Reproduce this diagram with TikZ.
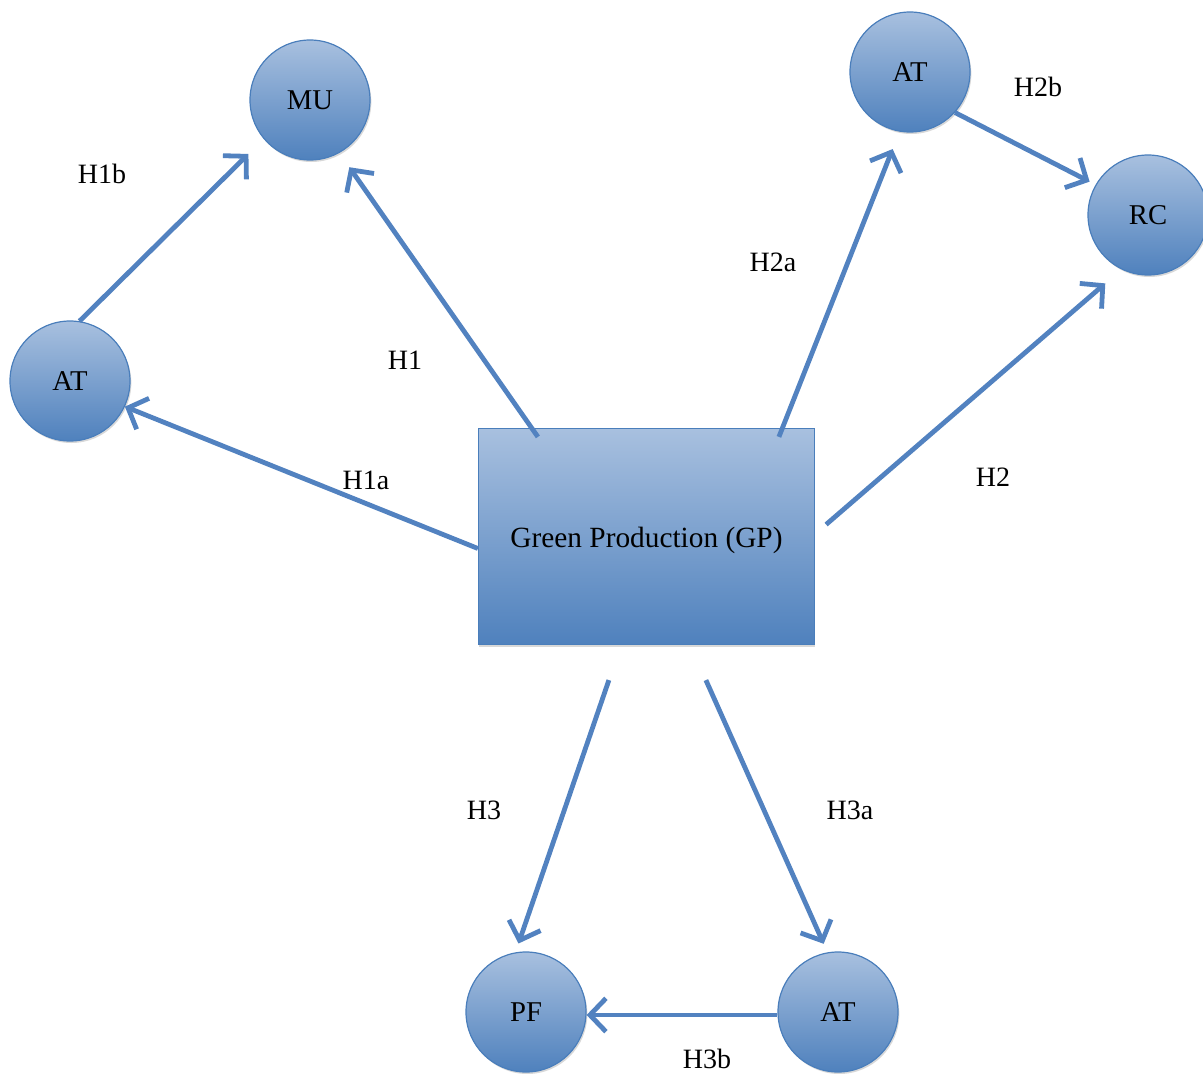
\documentclass[tikz,border=0pt]{standalone}
\usepackage{fontspec}
\setmainfont{Liberation Serif}
\usetikzlibrary{arrows.meta,shadows}
\definecolor{nodetop}{RGB}{168,192,223}
\definecolor{nodebottom}{RGB}{79,129,189}
\definecolor{nodeline}{RGB}{74,126,187}
\definecolor{arrowblue}{RGB}{82,130,192}

\tikzset{
  construct/.style={circle, minimum size=90pt, inner sep=0pt, draw=nodeline, line width=0.9pt,
    top color=nodetop, bottom color=nodebottom,
    drop shadow={shadow xshift=1pt, shadow yshift=-1.5pt, fill=black!30},
    font=\fontsize{21.5}{25}\selectfont},
  mainbox/.style={rectangle, minimum width=252pt, minimum height=162pt, draw=nodeline, line width=0.9pt,
    top color=nodetop, bottom color=nodebottom,
    drop shadow={shadow xshift=0pt, shadow yshift=-1.5pt, fill=black!30},
    font=\fontsize{22}{26}\selectfont},
  hyp/.style={font=\fontsize{21}{25}\selectfont},
  link/.style={draw=arrowblue, line width=3.6pt, -{Straight Barb[length=12pt, width=25pt, line width=3.6pt]}}
}

\begin{document}
\begin{tikzpicture}[x=0.75pt, y=-0.75pt]
    \useasboundingbox (0,0) rectangle (1203,1074);

    % Constructs
    \node[mainbox] (gp) at (646.5,536.5) {\raisebox{-8pt}[0pt][0pt]{Green Production (GP)}};
    \node[construct] (mu) at (310,100) {MU};
    \node[construct] (atl) at (70,381) {AT};
    \node[construct] (att) at (910,72) {AT};
    \node[construct] (rc) at (1148,215) {RC};
    \node[construct] (pf) at (526,1012) {PF};
    \node[construct] (atb) at (838,1012) {AT};

    % Paths
    \draw[link, shorten >=16pt] (atl.81) -- (mu.220);
    \draw[link, shorten >=13pt] ([shift={(60,9)}]gp.north west) -- (mu.-61);
    \draw[link] ([shift={(0,12)}]gp.west) -- (atl.-25);
    \draw[link, shorten >=14pt] ([shift={(301,9)}]gp.north west) -- (att.260);
    \draw[link, shorten >=5pt] (att.-42) -- (rc.150);
    \draw[link, shorten >=16pt] ([shift={(11,-12)}]gp.east) -- (rc.244);
    \draw[link, shorten >=7pt] ([shift={(131,35)}]gp.south west) -- (pf.100);
    \draw[link, shorten >=7pt] ([shift={(228,35)}]gp.south west) -- (atb.100);
    \draw[link] ([shift={(0,3)}]atb.west) -- ([shift={(0,3)}]pf.east);

    % Hypotheses
    \node[hyp] (h1b) at (102,174) {H1b};
    \node[hyp] (h1) at (405,360) {H1};
    \node[hyp] (h1a) at (366,480) {H1a};
    \node[hyp] (h2a) at (773,262) {H2a};
    \node[hyp] (h2b) at (1038,87) {H2b};
    \node[hyp] (h2) at (993,477) {H2};
    \node[hyp] (h3) at (484,810) {H3};
    \node[hyp] (h3a) at (850,810) {H3a};
    \node[hyp] (h3b) at (707,1059) {H3b};
\end{tikzpicture}
\end{document}
